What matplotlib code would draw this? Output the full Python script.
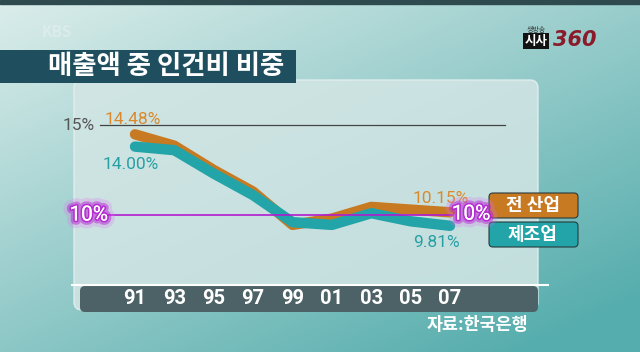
import numpy as np
import matplotlib
matplotlib.use("Agg")
import matplotlib.pyplot as plt
import matplotlib.patches as mpatches
import matplotlib.patheffects as pe

plt.rcParams["font.family"] = ["Noto Sans CJK KR", "DejaVu Sans"]

# ── Data ──────────────────────────────────────────────────────────────────────
years = ["91", "93", "95", "97", "99", "01", "03", "05", "07"]
all_industry = [14.48, 13.85, 12.5, 11.3, 9.45, 9.8, 10.45, 10.3, 10.15]
manufacturing = [13.8, 13.6, 12.3, 11.1, 9.6, 9.45, 10.1, 9.65, 9.4]
end_labels_all = ["14.48%", "10.15%"]
end_labels_mfg = ["14.00%", "9.81%"]
series_names = ["전 산업", "제조업"]
title = "매출액 중 인건비 비중"
source = "자료:한국은행"

# ── Colours ───────────────────────────────────────────────────────────────────
_ORANGE = "#c87a22"
_ORANGE_TXT = "#d98a2e"
_TEAL = "#22a4a8"
_TEAL_TXT = "#27a0a4"
_MAGENTA = "#b21ccf"
_BAND = "#4d6266"

W, H = 640, 352
fig = plt.figure(figsize=(W / 100, H / 100), dpi=100)

# ── Background (pixel coords) ─────────────────────────────────────────────────
bg = fig.add_axes([0, 0, 1, 1], zorder=0)
bg.set_xlim(0, W)
bg.set_ylim(H, 0)
bg.set_axis_off()

yy, xx = np.mgrid[0:H, 0:W]
t = np.clip(0.5 * xx / W + 0.6 * yy / H, 0, 1)
c0 = np.array([0.86, 0.93, 0.92])
c1 = np.array([0.34, 0.68, 0.68])
grad = c0[None, None, :] * (1 - t[..., None]) + c1[None, None, :] * t[..., None]
bg.imshow(grad, extent=(0, W, H, 0), aspect="auto", zorder=0)
bg.add_patch(mpatches.Rectangle((0, 0), W, 4, color="#2f4a4f", zorder=1))

# chart panel
bg.add_patch(mpatches.FancyBboxPatch(
    (74, 80), 464, 230, boxstyle="round,pad=0,rounding_size=8",
    facecolor="#d3e6e5", edgecolor="#e6f1f0", linewidth=1, alpha=0.85, zorder=2,
))
bg.add_patch(mpatches.FancyBboxPatch(
    (80, 286), 458, 26, boxstyle="round,pad=0,rounding_size=5",
    facecolor=_BAND, edgecolor="none", zorder=3,
))
bg.plot([72, 548], [285, 285], color="white", lw=1.5, zorder=4)

# title banner
bg.add_patch(mpatches.Rectangle((0, 50), 296, 33, facecolor="#1f4f5e",
                                edgecolor="none", zorder=5))
bg.text(48, 66, title, color="white", fontsize=19, fontweight="bold",
        va="center", ha="left", zorder=6)

# logos
bg.text(42, 32, "KBS", color="#e4f0ef", fontsize=11, fontweight="bold",
        va="center", alpha=0.6, zorder=6)
bg.text(536, 30, "생방송", color="#333", fontsize=5, ha="center", va="center", zorder=6)
bg.text(536, 41, "시사", color="white", fontsize=9, fontweight="bold", ha="center",
        va="center", zorder=6,
        bbox=dict(boxstyle="square,pad=0.1", facecolor="#111", edgecolor="none"))
bg.text(553, 40, "360", color="#8b1a2a", fontsize=15, fontweight="bold",
        fontstyle="italic", family="DejaVu Sans", ha="left", va="center", zorder=6)

# legend boxes
for (y0, name, col) in [(193, series_names[0], _ORANGE), (222, series_names[1], _TEAL)]:
    bg.add_patch(mpatches.FancyBboxPatch(
        (489, y0), 89, 25, boxstyle="round,pad=0,rounding_size=4",
        facecolor=col, edgecolor="#2a3a3c", linewidth=0.8, zorder=6,
    ))
    bg.text(533, y0 + 12.5, name, color="white", fontsize=13, fontweight="bold",
            ha="center", va="center", zorder=7)

bg.text(477, 325, source, color="white", fontsize=12.5, fontweight="bold",
        ha="center", va="center", zorder=6)

# ── Data axes ─────────────────────────────────────────────────────────────────
ax = fig.add_axes([82 / W, 1 - 285 / H, 456 / W, 190 / H], zorder=1)
ax.patch.set_alpha(0)
for s in ax.spines.values():
    s.set_visible(False)
x = np.arange(len(years))
step = 39.375
ax.set_xlim(-(135 - 82) / step, (538 - 135) / step)
ax.set_ylim(10 - 70 / 18, 15 + 30 / 18)
ax.set_yticks([])
ax.set_xticks(x, years)
ax.tick_params(axis="x", length=0, pad=3, labelsize=14.5, labelcolor="white")
for lbl in ax.get_xticklabels():
    lbl.set_fontweight("bold")
    lbl.set_family("Roboto")

ax.axhline(15, xmin=(100 - 82) / 456, xmax=(505 - 82) / 456, color="#444", lw=0.9)
ax.axhline(10, xmin=(105 - 82) / 456, xmax=(452 - 82) / 456, color=_MAGENTA, lw=1.2,
           zorder=5)

ax.plot(x, all_industry, color=_ORANGE, lw=7.5, solid_capstyle="round",
        solid_joinstyle="round", zorder=3)
ax.plot(x, manufacturing, color=_TEAL, lw=7.5, solid_capstyle="round",
        solid_joinstyle="round", zorder=4)

ax.text((95 - 135) / step, 15, "15%", color="#555", fontsize=12.5, ha="right",
        va="center", family="Roboto", clip_on=False)
glow = [pe.withStroke(linewidth=11, foreground="#e070f0", alpha=0.25),
        pe.withStroke(linewidth=6, foreground=_MAGENTA, alpha=0.45),
        pe.withStroke(linewidth=2.5, foreground=_MAGENTA, alpha=0.8),
        pe.Normal()]
ax.text((108 - 135) / step, 10, "10%", color="white", fontsize=15, ha="right",
        va="center", family="Roboto", clip_on=False, path_effects=glow, zorder=8)
ax.text((471 - 135) / step, 10.05, "10%", color="white", fontsize=15, ha="center",
        va="center", family="Roboto", clip_on=False, path_effects=glow, zorder=8)

ax.text((105 - 135) / step, 15.3, end_labels_all[0], color=_ORANGE_TXT, fontsize=12.5,
        ha="left", va="center", family="Roboto", zorder=6)
ax.text((103 - 135) / step, 12.78, end_labels_mfg[0], color=_TEAL_TXT, fontsize=12.5,
        ha="left", va="center", family="Roboto", zorder=6)
ax.text((413 - 135) / step, 10.94, end_labels_all[1], color=_ORANGE_TXT, fontsize=12.5,
        ha="left", va="center", family="Roboto", zorder=6)
ax.text((413 - 135) / step, 8.5, end_labels_mfg[1], color=_TEAL_TXT, fontsize=12.5,
        ha="left", va="center", family="Roboto", zorder=6)

fig.savefig("out.png", dpi=100)
